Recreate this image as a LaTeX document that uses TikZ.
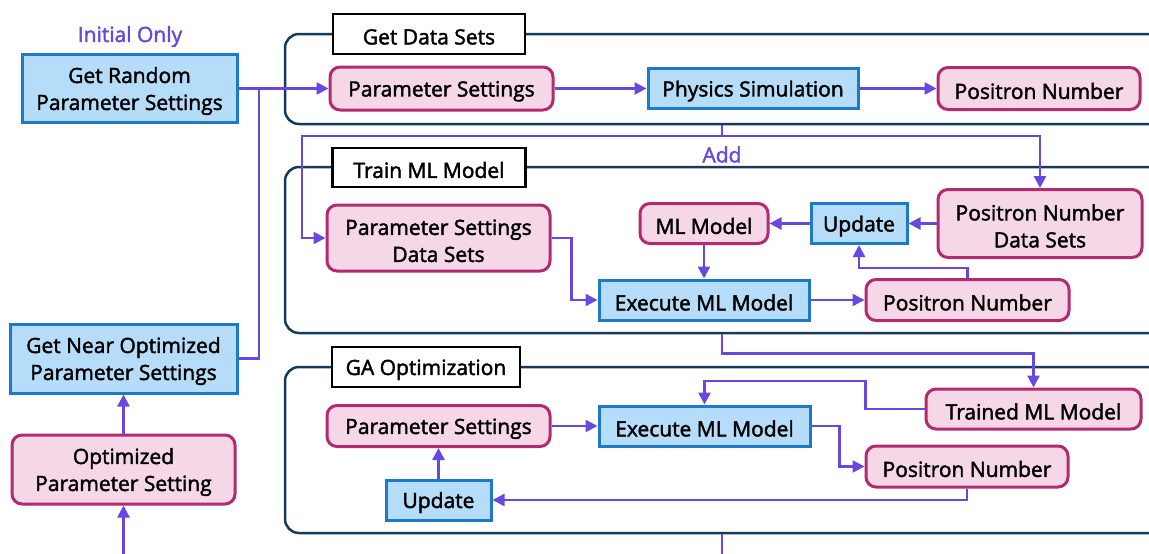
\documentclass[tikz,border=0pt]{standalone}
\usepackage{fontspec}
\setmainfont{Open Sans}[FakeBold=2]
\usetikzlibrary{arrows.meta}

\definecolor{fillblue}{RGB}{181,220,248}
\definecolor{lineblue}{RGB}{28,122,200}
\definecolor{fillpink}{RGB}{246,215,232}
\definecolor{linepink}{RGB}{178,42,112}
\definecolor{flowpurple}{RGB}{104,72,224}
\definecolor{framenavy}{RGB}{22,58,92}

\begin{document}
\begin{tikzpicture}
        [x=1pt, y=-1pt, font=\fontsize{21}{27}\selectfont, >={Triangle[length=12pt, width=12pt]},
         oneline/.style={text height=21pt},
         twoline/.style={text height=48pt},
         bluebox/.style={rectangle, draw=lineblue, fill=fillblue, line width=3pt, align=center, inner sep=1pt},
         pinkbox/.style={rectangle, rounded corners=10pt, draw=linepink, fill=fillpink, line width=3pt, align=center, inner sep=1pt},
         tagbox/.style={rectangle, draw=black, fill=white, line width=2.5pt, inner sep=1pt, oneline},
         groupframe/.style={rectangle, rounded corners=14pt, draw=framenavy, line width=2.5pt},
         flow/.style={draw=flowpurple, line width=2.5pt}]

        \useasboundingbox (0, 0) rectangle (1149, 554);
        \clip (0, 0) rectangle (1149, 554);

        % group frames
        \node[groupframe, minimum width=915pt, minimum height=90pt] (frame_data) at (742.5, 79) {};
        \node[groupframe, minimum width=915pt, minimum height=166pt] (frame_train) at (742.5, 250) {};
        \node[groupframe, minimum width=915pt, minimum height=166pt] (frame_ga) at (742.5, 450) {};

        \node[tagbox, minimum width=192pt, minimum height=40pt] (tag_data) at (429, 34) {Get Data Sets};
        \node[tagbox, minimum width=193pt, minimum height=39pt] (tag_train) at (429, 167.5) {Train ML Model};
        \node[tagbox, minimum width=188pt, minimum height=40pt] (tag_ga) at (426, 367) {GA Optimization};

        % left column
        \node[text=flowpurple, oneline] (initial) at (130, 34) {Initial Only};
        \node[bluebox, twoline, minimum width=215pt, minimum height=68pt] (get_random) at (129.5, 88.5) {Get Random\\Parameter Settings};
        \node[bluebox, twoline, minimum width=227pt, minimum height=69pt] (get_near) at (123.5, 358.5) {Get Near Optimized\\Parameter Settings};
        \node[pinkbox, twoline, minimum width=223pt, minimum height=69pt] (opt_param) at (123.5, 469.5) {Optimized\\Parameter Setting};

        % get data sets
        \node[pinkbox, oneline, minimum width=223pt, minimum height=43pt] (param1) at (441.5, 88.5) {Parameter Settings};
        \node[bluebox, oneline, minimum width=210pt, minimum height=40pt] (phys_sim) at (753, 88.5) {Physics Simulation};
        \node[pinkbox, oneline, minimum width=202pt, minimum height=42pt] (pos_num1) at (1039, 88.5) {Positron Number};

        % train ml model
        \node[pinkbox, twoline, minimum width=223pt, minimum height=66pt] (param_data) at (438.5, 238) {Parameter Settings\\Data Sets};
        \node[pinkbox, oneline, minimum width=128pt, minimum height=40pt] (ml_model) at (704, 223.5) {ML Model};
        \node[bluebox, oneline, minimum width=96pt, minimum height=40pt] (update1) at (859, 223.5) {Update};
        \node[pinkbox, twoline, minimum width=204pt, minimum height=68pt] (pos_data) at (1040, 223.5) {Positron Number\\Data Sets};
        \node[bluebox, oneline, minimum width=210pt, minimum height=40pt] (exec1) at (704, 300) {Execute ML Model};
        \node[pinkbox, oneline, minimum width=203pt, minimum height=41pt] (pos_num2) at (967.5, 300) {Positron Number};

        % ga optimization
        \node[pinkbox, oneline, minimum width=223pt, minimum height=41pt] (param_ga) at (438.5, 426) {Parameter Settings};
        \node[bluebox, oneline, minimum width=211pt, minimum height=40pt] (exec_ga) at (704.5, 426) {Execute ML Model};
        \node[pinkbox, oneline, minimum width=215pt, minimum height=40pt] (trained) at (1033.5, 409) {Trained ML Model};
        \node[pinkbox, oneline, minimum width=202pt, minimum height=41pt] (pos_ga) at (967, 466.5) {Positron Number};
        \node[bluebox, oneline, minimum width=105pt, minimum height=40pt] (update_ga) at (438.5, 500) {Update};

        \coordinate (merge) at (259, 88.5);
        \coordinate (add_pt) at (722, 136);
        \coordinate (add_left) at (302, 136);
        \coordinate (ga_out) at (722, 560);
        \coordinate (opt_in) at (123.5, 560);
        \node[text=flowpurple, oneline] (add_label) at (722, 152) {Add};

        \draw[flow, ->] (get_random) -- (param1);
        \draw[flow] (get_near.east) -| (merge);
        \draw[flow, ->] (param1) -- (phys_sim);
        \draw[flow, ->] (phys_sim) -- (pos_num1);

        \draw[flow] (frame_data.south -| add_pt) -- (add_pt);
        \draw[flow, ->] (add_pt) -- (add_left) |- (param_data.west);
        \draw[flow, ->] (add_pt) -| (pos_data.north);

        \draw[flow, ->] (pos_data) -- (update1);
        \draw[flow, ->] (update1) -- (ml_model);
        \draw[flow, ->] (ml_model) -- (exec1);
        \draw[flow, ->] (param_data.east) -- ++(20, 0) |- (exec1.west);
        \draw[flow, ->] (exec1) -- (pos_num2);
        \draw[flow, ->] (pos_num2.north) -- ++(0, -10) -| (update1.south);

        \draw[flow, ->] (frame_train.south -| add_pt) -- ++(0, 19) -| (trained.north);
        \draw[flow, ->] (trained.west) -- ++(-59, 0) -- ++(0, -28) -| (exec_ga.north);
        \draw[flow, ->] (param_ga) -- (exec_ga);
        \draw[flow, ->] (exec_ga.east) -- ++(28, 0) |- (pos_ga.west);
        \draw[flow, ->] (pos_ga.south) |- (update_ga.east);
        \draw[flow, ->] (update_ga) -- (param_ga);

        \draw[flow] (frame_ga.south -| add_pt) -- (ga_out);
        \draw[flow, ->] (opt_in) -- (opt_param);
        \draw[flow, ->] (opt_param) -- (get_near);
\end{tikzpicture}
\end{document}
